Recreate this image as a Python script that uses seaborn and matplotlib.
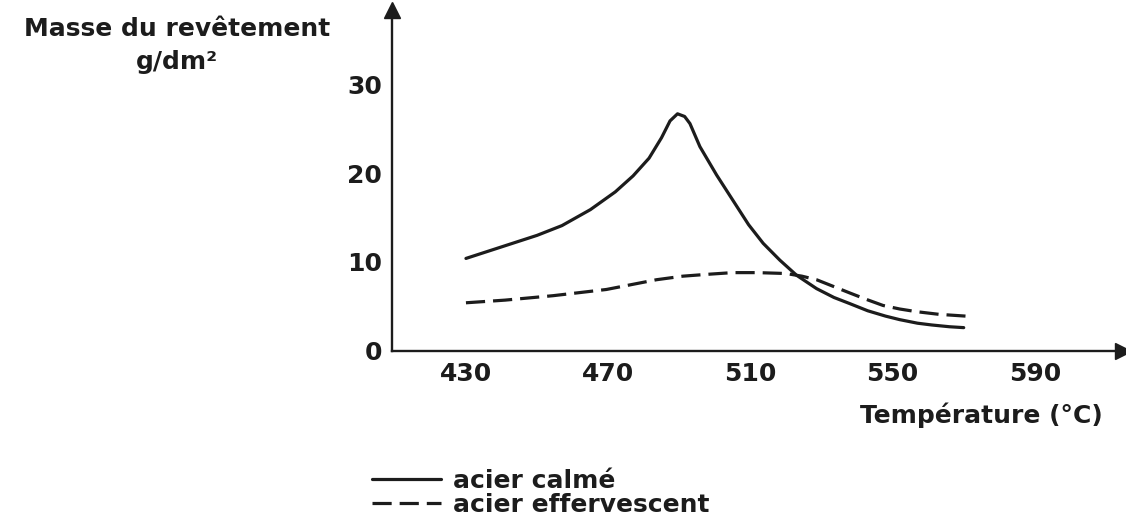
import matplotlib
matplotlib.use("Agg")
import matplotlib.pyplot as plt
import pandas as pd
import seaborn as sns

# ---- data ----
temp_calme = [430, 440, 450, 457, 465, 472, 477, 481.5, 485, 487.4, 489.5, 491.5, 493,
              495.8, 500.5, 505, 509.5, 513.6, 518.3, 523, 528.6, 533.5, 538, 543, 548,
              552, 557, 561, 566, 570]
masse_calme = [10.4, 11.7, 13.0, 14.1, 15.9, 17.9, 19.7, 21.7, 24.0, 25.9, 26.7, 26.4, 25.6,
               23.0, 19.8, 17.0, 14.2, 12.1, 10.2, 8.5, 7.0, 6.0, 5.3, 4.5, 3.9,
               3.5, 3.1, 2.9, 2.7, 2.6]
temp_eff = [430, 441, 454.5, 469.5, 483.6, 491, 497.6, 505, 512, 520, 524.5, 528.6, 533,
            538, 542.5, 547.3, 552, 556.7, 563, 570.5]
masse_eff = [5.4, 5.7, 6.2, 6.9, 8.0, 8.4, 8.6, 8.8, 8.8, 8.7, 8.4, 8.0, 7.3,
             6.5, 5.8, 5.1, 4.7, 4.4, 4.1, 3.9]

series_names = ["acier calmé", "acier effervescent"]
x_ticks = [430, 470, 510, 550, 590]
y_ticks = [0, 10, 20, 30]
y_title = "Masse du revêtement"
y_unit = "g/dm²"
x_title = "Température (°C)"

df = pd.concat([
    pd.DataFrame({"T": temp_calme, "m": masse_calme, "acier": series_names[0]}),
    pd.DataFrame({"T": temp_eff, "m": masse_eff, "acier": series_names[1]}),
], ignore_index=True)

sns.set_theme(style="white")
plt.rcParams["font.family"] = ["DejaVu Sans"]
plt.rcParams["font.weight"] = "bold"
ink = "#1c1c1c"
FS = 18

W, H = 1126, 521
fig = plt.figure(figsize=(W / 100, H / 100), dpi=100)
x0, x1, y_bot, y_top = 392, 1123, 350.7, 10
ax = fig.add_axes([x0 / W, 1 - y_bot / H, (x1 - x0) / W, (y_bot - y_top) / H])

sns.lineplot(data=df, x="T", y="m", style="acier", style_order=series_names,
             dashes={series_names[0]: "", series_names[1]: (6, 2.5)},
             color=ink, linewidth=2.3, estimator=None, legend=False, ax=ax)

ax.set_xlim(409.2, 614.8)
ax.set_ylim(0, 38.4)
ax.set_xticks(x_ticks)
ax.set_yticks(y_ticks)
ax.set_xlabel("")
ax.set_ylabel("")
for s in ["top", "right"]:
    ax.spines[s].set_visible(False)
for s in ["left", "bottom"]:
    ax.spines[s].set_color(ink)
    ax.spines[s].set_linewidth(1.7)
ax.tick_params(axis="both", direction="out", length=5, width=1.7, colors=ink,
               labelsize=FS, pad=2)
ax.tick_params(axis="x", pad=3)
for lab in ax.get_xticklabels() + ax.get_yticklabels():
    lab.set_fontweight("bold")

# arrow heads
ax.plot(1, 0, marker=">", ms=11, color=ink, transform=ax.transAxes, clip_on=False)
ax.plot(0, 1, marker="^", ms=11, color=ink, transform=ax.transAxes, clip_on=False)

fig.text(177 / W, 1 - 29 / H, y_title, ha="center", va="center", fontsize=FS,
         color=ink, fontweight="bold")
fig.text(177 / W, 1 - 62 / H, y_unit, ha="center", va="center", fontsize=FS,
         color=ink, fontweight="bold")
fig.text(1103 / W, 1 - 415 / H, x_title, ha="right", va="center", fontsize=FS,
         color=ink, fontweight="bold")

handles = ax.lines[:2]
leg = fig.legend(handles, series_names, loc="upper left",
                 bbox_to_anchor=(372 / W, 1 - 469 / H), frameon=False,
                 prop={"size": FS, "weight": "bold"},
                 handlelength=2.75, handletextpad=0.5, labelspacing=0.0,
                 borderpad=0, borderaxespad=0, labelcolor=ink)

fig.savefig("out.png", dpi=100, facecolor="white")
